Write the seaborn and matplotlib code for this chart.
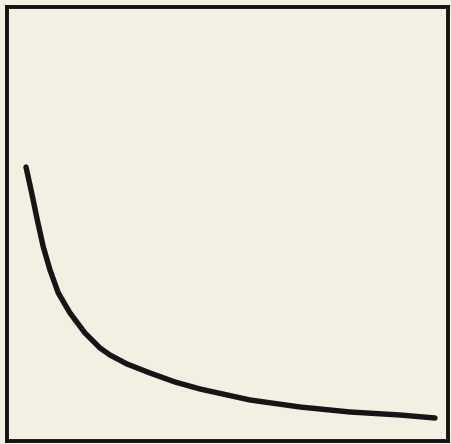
import matplotlib
matplotlib.use("Agg")
import matplotlib.pyplot as plt
import seaborn as sns
import pandas as pd

# curve points (x right, y up)
x_vals = [26, 31.7, 37.3, 43.3, 50, 58.3, 70, 85, 100, 110, 127, 150, 175, 200, 250, 300, 350, 400, 435]
y_vals = [277, 251, 224, 197, 174, 151, 131, 111, 96, 89, 80, 71, 62, 55, 44, 37, 32, 29, 26]

df = pd.DataFrame({"x": x_vals, "y": y_vals})

sns.set_style("white")
bg = "#f1f0e3"

fig = plt.figure(figsize=(4.51, 4.44), dpi=100)
fig.patch.set_facecolor(bg)
ax = fig.add_axes([7 / 451, 3 / 444, 441 / 451, 434 / 444])
ax.set_facecolor(bg)

sns.lineplot(data=df, x="x", y="y", ax=ax, color="#1a1214", linewidth=3.9,
             solid_capstyle="round", solid_joinstyle="round")

ax.set_xlim(7, 448)
ax.set_ylim(3, 437)
ax.set_xticks([])
ax.set_yticks([])
ax.set_xlabel("")
ax.set_ylabel("")
for s in ax.spines.values():
    s.set_visible(True)
    s.set_color("#161213")
    s.set_linewidth(2.8)

plt.savefig("out.png", dpi=100, facecolor=bg)
